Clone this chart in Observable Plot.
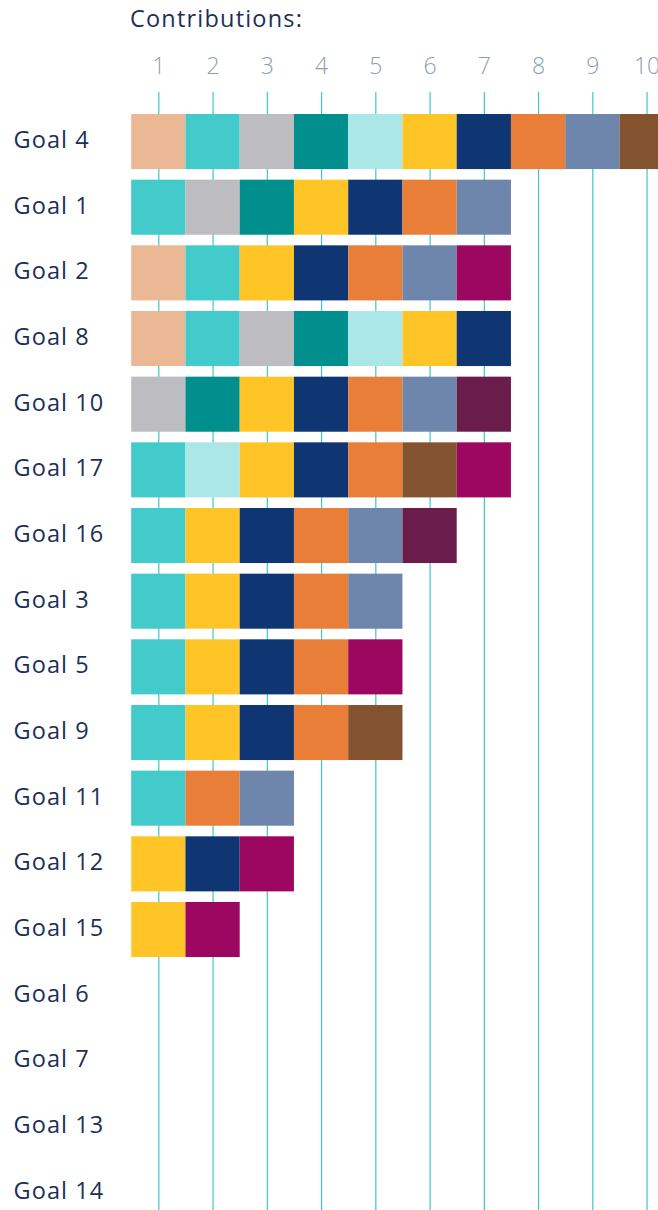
<!DOCTYPE html>
<html>
<head>
<meta charset="utf-8">
<script src="https://cdn.jsdelivr.net/npm/d3@7"></script>
<script src="https://cdn.jsdelivr.net/npm/@observablehq/plot@0.6"></script>
<style>
  html, body { margin: 0; padding: 0; background: #fff; overflow: hidden; width: 658px; height: 1210px; }
  #title { height: 46px; box-sizing: border-box; padding-left: 130px; padding-top: 3px;
    font-family: "Open Sans", sans-serif; font-size: 23.5px; letter-spacing: 1.2px; color: #1C3057; line-height: 30px; }
  #chart svg { display: block; overflow: hidden; }
  #chart g[aria-label="y-axis tick label"] text { letter-spacing: 1.1px; }
</style>
</head>
<body>
<div id="title">Contributions:</div>
<div id="chart"></div>
<script>
const goals = ["Goal 4","Goal 1","Goal 2","Goal 8","Goal 10","Goal 17","Goal 16","Goal 3","Goal 5","Goal 9","Goal 11","Goal 12","Goal 15","Goal 6","Goal 7","Goal 13","Goal 14"];
const partners = ["A","B","C","D","E","F","G","H","I","J","K","L"];
const partnerColors = ["#EAB894","#42CBCA","#BDBCC1","#008F8C","#ACE7E7","#FFC527","#0F3673","#E87E38","#6E86AB","#82532E","#6A1D4A","#9C085F"];
const goalPartners = [
  ["A","B","C","D","E","F","G","H","I","J"],
  ["B","C","D","F","G","H","I"],
  ["A","B","F","G","H","I","L"],
  ["A","B","C","D","E","F","G"],
  ["C","D","F","G","H","I","K"],
  ["B","E","F","G","H","J","L"],
  ["B","F","G","H","I","K"],
  ["B","F","G","H","I"],
  ["B","F","G","H","L"],
  ["B","F","G","H","J"],
  ["B","H","I"],
  ["F","G","L"],
  ["F","L"],
  [],
  [],
  [],
  []
];
const xTicks = [1,2,3,4,5,6,7,8,9,10];

const cells = [];
goals.forEach((g, i) => goalPartners[i].forEach((p, j) => cells.push({goal: g, pos: j + 1, partner: p})));

const topOff = 46;
const chart = Plot.plot({
  width: 658,
  height: 1210 - topOff,
  marginTop: 92 - topOff,
  marginBottom: 0,
  marginLeft: 13,
  marginRight: 0,
  style: {background: "#fff", overflow: "hidden"},
  x: {domain: [0.5, 10.5], range: [131.2, 673.7], axis: null},
  y: {domain: goals, range: [108.7 - topOff, 1225 - topOff], padding: 0, round: false, axis: null, label: null},
  color: {domain: partners, range: partnerColors},
  marks: [
    Plot.ruleX(xTicks, {stroke: "#3CC8C8", strokeWidth: 1.2}),
    Plot.barX(cells, {x1: d => d.pos - 0.5, x2: d => d.pos + 0.5, y: "goal", fill: "partner", insetTop: 5.3, insetBottom: 5.3}),
    Plot.axisX(xTicks, {anchor: "top", tickSize: 0, tickPadding: 19, fontSize: 23, fontWeight: 300,
      fontFamily: "Open Sans, sans-serif", fill: "#8E9DB3", tickFormat: d => String(d), label: null}),
    Plot.axisY(goals, {anchor: "left", tickSize: 0, tickPadding: 0, textAnchor: "start", dx: 0, dy: -1.5,
      fontSize: 23.5, fontFamily: "Open Sans, sans-serif", fill: "#1C3057", label: null})
  ]
});
document.getElementById("chart").appendChild(chart);
</script>
</body>
</html>
